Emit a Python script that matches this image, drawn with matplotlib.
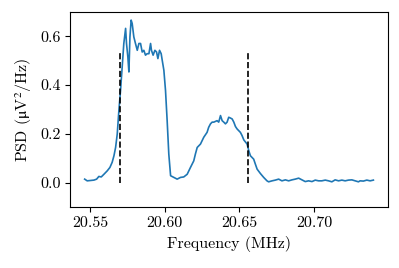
import numpy as np
import matplotlib
matplotlib.use('Agg')
import matplotlib.pyplot as plt

# LaTeX-like look without a TeX install
plt.rcParams['font.family'] = 'serif'
plt.rcParams['font.serif'] = ['cmr10']
plt.rcParams['mathtext.fontset'] = 'cm'
plt.rcParams['axes.formatter.use_mathtext'] = True
plt.rcParams['font.size'] = 11.5

# measured PSD trace
freq = [20.5465, 20.5482, 20.5527, 20.5545, 20.5560, 20.5576, 20.5594, 20.5616,
        20.5634, 20.5649, 20.5661, 20.5672, 20.5683, 20.5694, 20.5705, 20.5716,
        20.5727, 20.5739, 20.5745, 20.5754, 20.5761, 20.5768, 20.5776, 20.5783,
        20.5794, 20.5805, 20.5817, 20.5828, 20.5839, 20.5850, 20.5861, 20.5872,
        20.5883, 20.5895, 20.5906, 20.5912, 20.5923, 20.5935, 20.5946, 20.5955,
        20.5966, 20.5977, 20.5984, 20.5995, 20.6006, 20.6017, 20.6028, 20.6040,
        20.6062, 20.6084, 20.6106, 20.6128, 20.6151, 20.6173, 20.6195, 20.6206,
        20.6218, 20.6240, 20.6262, 20.6284, 20.6295, 20.6307, 20.6318, 20.6329,
        20.6351, 20.6362, 20.6374, 20.6385, 20.6396, 20.6407, 20.6418, 20.6429,
        20.6440, 20.6452, 20.6463, 20.6474, 20.6485, 20.6507, 20.6518, 20.6530,
        20.6552, 20.6563, 20.6574, 20.6596, 20.6607, 20.6619, 20.6641, 20.6663,
        20.6685, 20.6696, 20.6719, 20.6741, 20.6763, 20.6785, 20.6808, 20.6830,
        20.6852, 20.6874, 20.6897, 20.6919, 20.6941, 20.6963, 20.6986, 20.7008,
        20.7030, 20.7052, 20.7075, 20.7097, 20.7119, 20.7141, 20.7164, 20.7186,
        20.7208, 20.7230, 20.7253, 20.7275, 20.7297, 20.7308, 20.7330, 20.7353,
        20.7375, 20.7397]
psd = [0.014, 0.007, 0.010, 0.014, 0.025, 0.023, 0.034, 0.048,
       0.062, 0.083, 0.110, 0.144, 0.199, 0.296, 0.378, 0.474,
       0.571, 0.633, 0.571, 0.516, 0.454, 0.598, 0.667, 0.653,
       0.598, 0.571, 0.543, 0.571, 0.571, 0.536, 0.543, 0.523,
       0.529, 0.529, 0.571, 0.543, 0.523, 0.543, 0.536, 0.509,
       0.543, 0.529, 0.502, 0.461, 0.378, 0.254, 0.117, 0.028,
       0.021, 0.014, 0.021, 0.023, 0.034, 0.062, 0.089, 0.117,
       0.144, 0.158, 0.186, 0.206, 0.227, 0.241, 0.248, 0.248,
       0.254, 0.248, 0.275, 0.254, 0.248, 0.241, 0.248, 0.268,
       0.265, 0.261, 0.248, 0.230, 0.220, 0.206, 0.193, 0.175,
       0.158, 0.131, 0.110, 0.096, 0.076, 0.055, 0.037, 0.021,
       0.007, 0.003, 0.007, 0.010, 0.014, 0.007, 0.011, 0.007,
       0.011, 0.014, 0.018, 0.011, 0.004, 0.007, 0.004, 0.010,
       0.007, 0.007, 0.010, 0.007, 0.003, 0.011, 0.007, 0.010,
       0.007, 0.010, 0.011, 0.007, 0.003, 0.007, 0.006, 0.010,
       0.007, 0.010]

# band edges
edges = [20.570, 20.656]
edge_top = 0.535

fig, ax = plt.subplots(figsize=(3.99, 2.68), dpi=100)
ax.plot(freq, psd, color='#1f77b4', lw=1.2)
ax.vlines(edges, 0, edge_top, colors='k', linestyles='--', lw=1.2)

ax.set_ylim(-0.1, 0.7)
ax.set_xticks([20.55, 20.60, 20.65, 20.70])
ax.set_yticks([0.0, 0.2, 0.4, 0.6])
ax.set_xticklabels(['20.55', '20.60', '20.65', '20.70'])
ax.set_yticklabels(['0.0', '0.2', '0.4', '0.6'])
ax.set_xlabel('Frequency (MHz)')
# upright micro sign: take it from the STIX math font
ax.set_ylabel(r'PSD ($\mathrm{\mu}$V$^{\mathrm{2}}$/Hz)', math_fontfamily='stix')

plt.subplots_adjust(left=0.176, right=0.972, top=0.955, bottom=0.228)
plt.savefig('out.png', dpi=100)
